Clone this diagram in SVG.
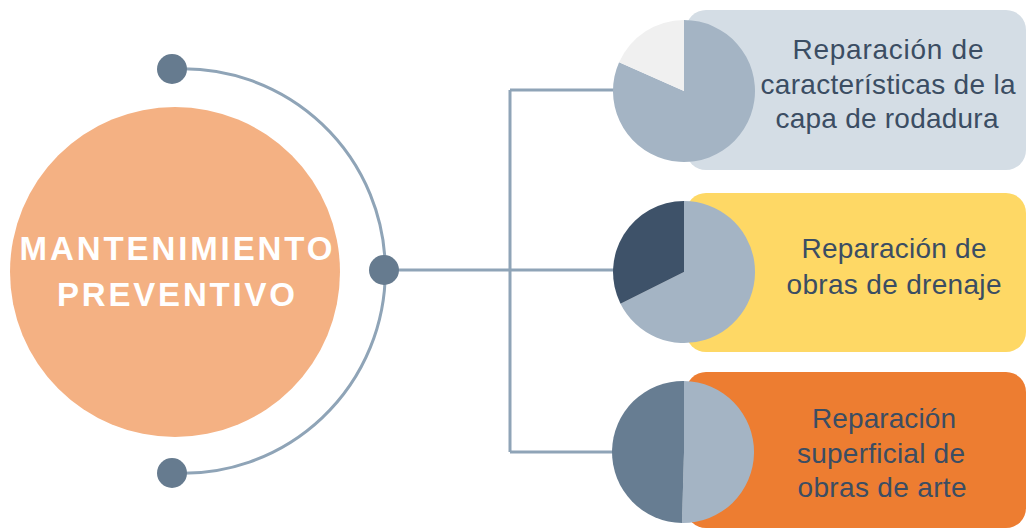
<svg xmlns="http://www.w3.org/2000/svg" width="1027" height="529" viewBox="0 0 1027 529">
<style>
.conn{fill:none;stroke:#8fa4b7;stroke-width:3}
.dot{fill:#667b8f}
.lbl{font-family:"Liberation Sans",Arial,sans-serif;font-size:28px;fill:#3b4d63;text-anchor:middle}
.main{font-family:"Liberation Sans",Arial,sans-serif;font-size:33px;font-weight:bold;fill:#ffffff;text-anchor:middle}
.pieL{fill:#a4b4c4}
</style>
<rect width="1027" height="529" fill="#ffffff"/>
<g id="connectors">
<path class="conn" d="M172,69 A202.3,202.3 0 1 1 172,473"/>
<path class="conn" d="M384,270 H510 M510,90 V452 M510,90 H614 M510,270 H614 M510,452 H614"/>
</g>
<g id="center-node">
<circle cx="175" cy="272" r="165" fill="#f4b183"/>
<text class="main" x="176" y="260" textLength="313" lengthAdjust="spacing">MANTENIMIENTO</text>
<text class="main" x="176" y="306" textLength="238" lengthAdjust="spacing">PREVENTIVO</text>
</g>
<g id="dots">
<circle class="dot" cx="172" cy="69" r="15"/>
<circle class="dot" cx="384" cy="270" r="15"/>
<circle class="dot" cx="172" cy="473" r="15"/>
</g>
<g id="node1">
<rect x="686" y="10" width="340" height="160" rx="20" fill="#d4dde5"/>
<path class="pieL" d="M684,91 L684,20 A71,71 0 1 1 619.1,62.2 Z"/>
<path fill="#f0f0f0" d="M684,91 L684,20 A71,71 0 0 0 619.1,62.2 Z"/>
<text class="lbl" x="888" y="59" textLength="191" lengthAdjust="spacing">Reparación de</text>
<text class="lbl" x="888" y="94" textLength="255" lengthAdjust="spacing">características de la</text>
<text class="lbl" x="887" y="128" textLength="223" lengthAdjust="spacing">capa de rodadura</text>
</g>
<g id="node2">
<rect x="686" y="193" width="340" height="159" rx="20" fill="#fed865"/>
<path class="pieL" d="M684,272 L684,201 A71,71 0 1 1 620.5,303.7 Z"/>
<path fill="#3e5269" d="M684,272 L684,201 A71,71 0 0 0 620.5,303.7 Z"/>
<text class="lbl" x="894" y="258" textLength="185" lengthAdjust="spacing">Reparación de</text>
<text class="lbl" x="894" y="294" textLength="215" lengthAdjust="spacing">obras de drenaje</text>
</g>
<g id="node3">
<rect x="686" y="372" width="340" height="156" rx="20" fill="#ed7d31"/>
<path class="pieL" d="M684,452 L684,381 A71,71 0 1 1 682,523 Z"/>
<path fill="#677d92" d="M684,452 L684,381 A71,71 0 0 0 682,523 Z"/>
<text class="lbl" x="884" y="428" textLength="144" lengthAdjust="spacing">Reparación</text>
<text class="lbl" x="881" y="463" textLength="168" lengthAdjust="spacing">superficial de</text>
<text class="lbl" x="882" y="497" textLength="169" lengthAdjust="spacing">obras de arte</text>
</g>
</svg>
